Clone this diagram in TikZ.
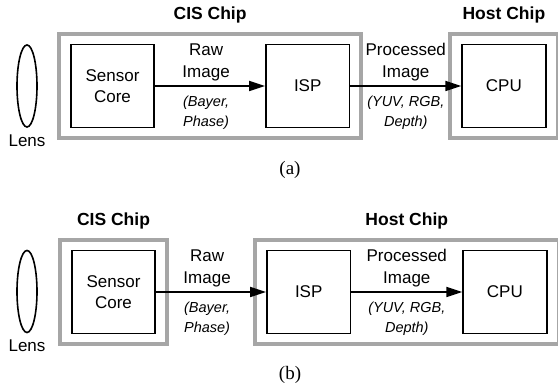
\documentclass[tikz,border=0pt]{standalone}
\usepackage{fontspec}
\setmainfont{Liberation Sans}
\newfontfamily\capfont{Liberation Serif}
\usepackage{xcolor}
\usepackage{tikz}
\usetikzlibrary{positioning,arrows.meta,shapes.geometric,fit}
\definecolor{chipgray}{HTML}{A6A6A6}

\begin{document}
\begin{tikzpicture}[
    x=1pt, y=1pt,
    node distance=110pt,
    unit/.style={draw, line width=1.7pt, minimum width=83.5pt, minimum height=83pt, align=center, font=\fontsize{17}{21}\selectfont},
    chip/.style={draw=chipgray, line width=4pt, inner xsep=11pt, inner ysep=9.5pt},
    arr/.style={-{Triangle[length=16pt,width=10pt]}, line width=1.7pt},
    lens/.style={draw, line width=1.6pt, ellipse, minimum width=20pt, minimum height=82pt, inner sep=0pt},
    lbl/.style={align=center, inner sep=0pt, font=\fontsize{17}{22}\selectfont},
    note/.style={align=center, inner sep=0pt, font=\fontsize{14.5}{20}\selectfont\itshape},
    title/.style={font=\fontsize{17.5}{20}\selectfont\bfseries},
    sub/.style={font=\capfont\fontsize{19}{21}\selectfont}
]
    \useasboundingbox (0,0) rectangle (558,390);

    % (a) ISP inside the CIS chip
    \node[lens] (lensA) at (27,304) {};
    \node[below=3pt of lensA, font=\fontsize{17}{20}\selectfont] (lensAt) {Lens};
    \node[unit] (sensA) at (112.5,304) {Sensor\\Core};
    \node[unit, right=of sensA] (ispA) {ISP};
    \node[unit, right=111pt of ispA] (cpuA) {CPU};
    \node[chip, fit=(sensA)(ispA)] (cisA) {};
    \node[chip, fit=(cpuA)] (hostA) {};
    \node[title] (cisAt) at ([yshift=17pt]cisA.north) {CIS Chip};
    \node[title] (hostAt) at ([yshift=17pt]hostA.north) {Host Chip};

    \draw[arr] (sensA) -- node[lbl, above=4pt, xshift=-4pt] {Raw\\Image}
        node[note, below=9pt, xshift=-4pt] {(Bayer,\\Phase)} (ispA);
    \draw[arr] (ispA) -- node[lbl, above=4pt] {Processed\\Image}
        node[note, below=9pt] {(YUV, RGB,\\Depth)} (cpuA);
    \node[sub] (capA) at (290,220) {(a)};

    % (b) ISP moved to the host chip
    \node[lens] (lensB) at (27,98.5) {};
    \node[below=3pt of lensB, font=\fontsize{17}{20}\selectfont] (lensBt) {Lens};
    \node[unit] (sensB) at (113.5,98) {Sensor\\Core};
    \node[unit, right=of sensB] (ispB) {ISP};
    \node[unit, right=111pt of ispB] (cpuB) {CPU};
    \node[chip, fit=(sensB)] (cisB) {};
    \node[chip, fit=(ispB)(cpuB)] (hostB) {};
    \node[title] (cisBt) at ([yshift=17pt]cisB.north) {CIS Chip};
    \node[title] (hostBt) at ([yshift=17pt]hostB.north) {Host Chip};

    \draw[arr] (sensB) -- node[lbl, above=4pt, xshift=-4pt] {Raw\\Image}
        node[note, below=9pt, xshift=-4pt] {(Bayer,\\Phase)} (ispB);
    \draw[arr] (ispB) -- node[lbl, above=4pt] {Processed\\Image}
        node[note, below=9pt] {(YUV, RGB,\\Depth)} (cpuB);
    \node[sub] (capB) at (290,15) {(b)};
\end{tikzpicture}
\end{document}
